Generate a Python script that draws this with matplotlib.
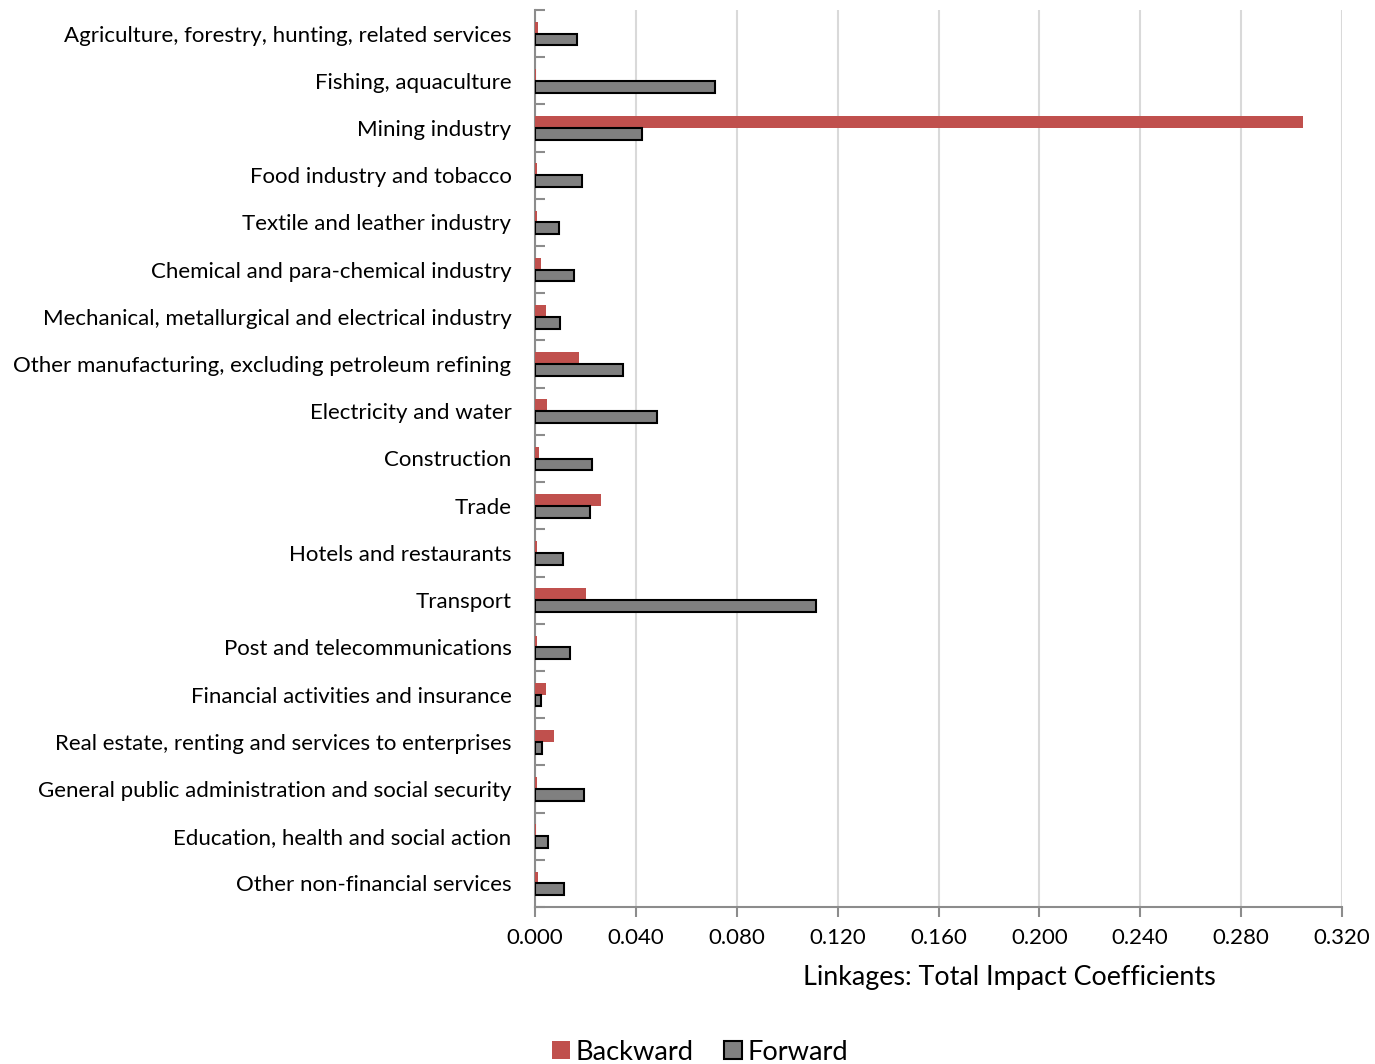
import matplotlib
matplotlib.use("Agg")
import matplotlib.pyplot as plt
import numpy as np
from matplotlib.patches import Patch

plt.rcParams['font.family'] = ['Lato', 'DejaVu Sans']

sectors = [
    "Agriculture, forestry, hunting, related services",
    "Fishing, aquaculture",
    "Mining industry",
    "Food industry and tobacco",
    "Textile and leather industry",
    "Chemical and para-chemical industry",
    "Mechanical, metallurgical and electrical industry",
    "Other manufacturing, excluding petroleum refining",
    "Electricity and water",
    "Construction",
    "Trade",
    "Hotels and restaurants",
    "Transport",
    "Post and telecommunications",
    "Financial activities and insurance",
    "Real estate, renting and services to enterprises",
    "General public administration and social security",
    "Education, health and social action",
    "Other non-financial services",
]
backward = [0.0012, 0.0003, 0.3045, 0.0006, 0.0006, 0.0024, 0.0042, 0.0174, 0.0048,
            0.0016, 0.0262, 0.0006, 0.0202, 0.0006, 0.0044, 0.0075, 0.0009, 0.0002, 0.0013]
forward = [0.0167, 0.0714, 0.0424, 0.0186, 0.0095, 0.0155, 0.0099, 0.0349, 0.0483,
           0.0225, 0.0218, 0.0111, 0.1114, 0.0139, 0.0023, 0.0027, 0.0194, 0.0053, 0.0115]
xticks = [0.000, 0.040, 0.080, 0.120, 0.160, 0.200, 0.240, 0.280, 0.320]

red = "#C0504D"
grey = "#808080"
axis_col = "#8C8C8C"

fig = plt.figure(figsize=(13.75, 10.64), dpi=100)
ax = fig.add_axes([535 / 1375, 1 - 907 / 1064, (1342 - 535) / 1375, (907 - 10) / 1064])

n = len(sectors)
y = np.arange(n)
h = 0.25
ax.barh(y - h / 2, backward, height=h, color=red, edgecolor='none', zorder=3)
ax.barh(y + h / 2, forward, height=h, color=grey, edgecolor='black', linewidth=1.5, zorder=3)

ax.set_ylim(n - 0.5, -0.5)
ax.set_xlim(0, 0.32)

ax.set_yticks(y)
ax.set_yticklabels(sectors, fontsize=16)
ax.tick_params(axis='y', length=0, pad=17)
ax.set_yticks(np.arange(-0.5, n, 1.0), minor=True)
ax.tick_params(axis='y', which='minor', direction='in', length=7, width=1.5, color=axis_col)

ax.set_xticks(xticks)
ax.set_xticklabels([f"{v:.3f}" for v in xticks], fontsize=16)
ax.tick_params(axis='x', direction='out', length=7, width=1.5, color=axis_col, pad=8)

ax.grid(axis='x', color='#D9D9D9', linewidth=1.5, zorder=0)
ax.set_axisbelow(True)
for s in ['top', 'right']:
    ax.spines[s].set_visible(False)
for s in ['left', 'bottom']:
    ax.spines[s].set_color(axis_col)
    ax.spines[s].set_linewidth(1.5)

fig.text(1009 / 1375, 1 - 977 / 1064, "Linkages: Total Impact Coefficients",
         fontsize=19.4, ha='center', va='center')

handles = [Patch(facecolor=red, edgecolor='none', label='Backward'),
           Patch(facecolor=grey, edgecolor='black', linewidth=1.5, label='Forward')]
fig.legend(handles=handles, loc='center', bbox_to_anchor=(700 / 1375, 1 - 1052 / 1064),
           ncol=2, frameon=False, fontsize=19.6, handlelength=0.65, handleheight=0.65,
           handletextpad=0.2, columnspacing=1.15)

fig.savefig("out.png", dpi=100)
